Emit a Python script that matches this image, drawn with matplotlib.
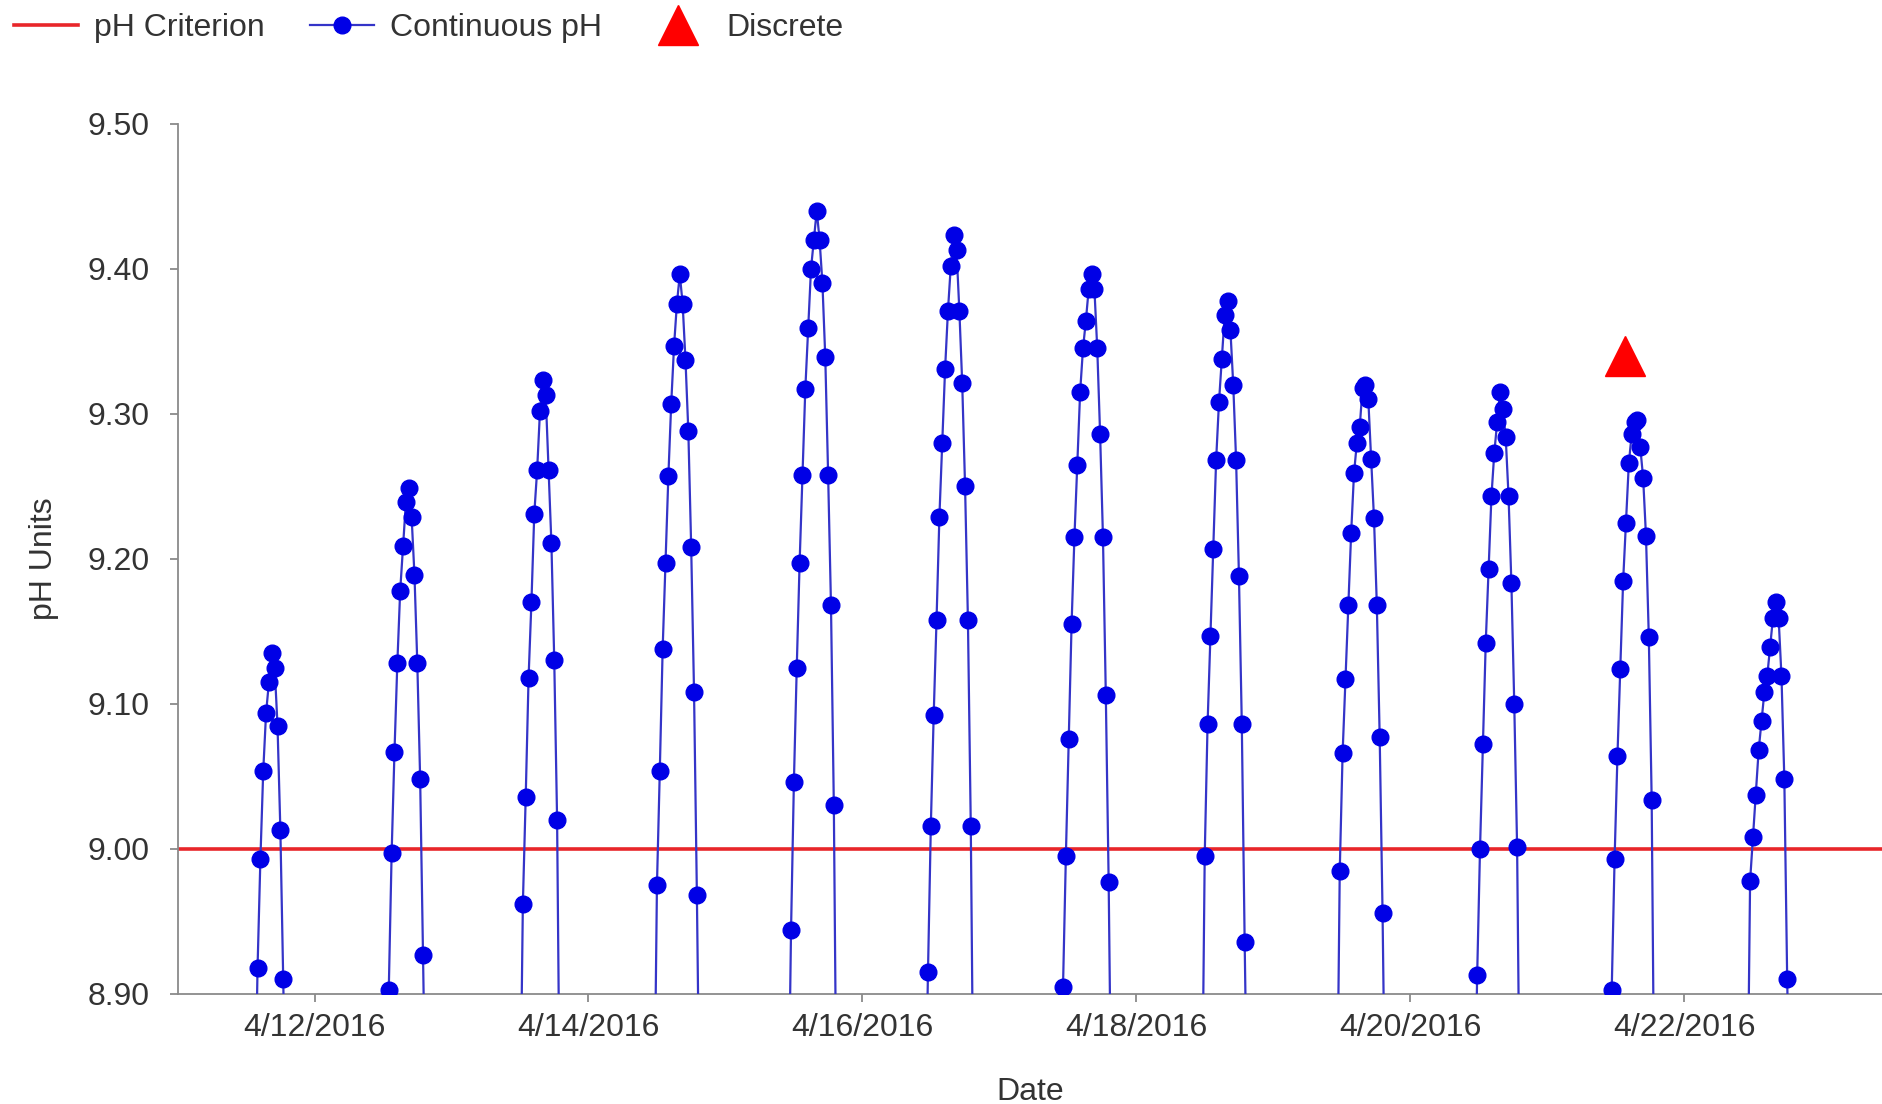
import pandas as pd
import matplotlib
matplotlib.use("Agg")
import matplotlib.pyplot as plt
from matplotlib.lines import Line2D

plt.rcParams['font.family'] = ['Liberation Sans', 'DejaVu Sans']

# time of first reading of each day's run (30 min steps), first and last are below the axis
run_starts = ['2016-04-11 13:30', '2016-04-12 12:30', '2016-04-13 12:00', '2016-04-14 11:30',
              '2016-04-15 11:00', '2016-04-16 11:00', '2016-04-17 10:40', '2016-04-18 11:30',
              '2016-04-19 11:10', '2016-04-20 11:15', '2016-04-21 10:50', '2016-04-22 11:05']

ph_0411 = [8.80, 8.918, 8.993, 9.054, 9.094, 9.115, 9.135, 9.125, 9.085, 9.013, 8.910, 8.80]
ph_0412 = [8.80, 8.903, 8.997, 9.067, 9.128, 9.178, 9.209, 9.239, 9.249, 9.229, 9.189, 9.128, 9.048, 8.927, 8.80]
ph_0413 = [8.80, 8.962, 9.036, 9.118, 9.170, 9.231, 9.261, 9.302, 9.323, 9.313, 9.261, 9.211, 9.130, 9.020, 8.80]
ph_0414 = [8.80, 8.975, 9.054, 9.138, 9.197, 9.257, 9.307, 9.347, 9.376, 9.396, 9.376, 9.337, 9.288, 9.208,
           9.108, 8.968, 8.80]
ph_0415 = [8.80, 8.944, 9.046, 9.125, 9.197, 9.258, 9.317, 9.359, 9.400, 9.420, 9.440, 9.420, 9.390, 9.339,
           9.258, 9.168, 9.030, 8.80]
ph_0416 = [8.80, 8.915, 9.016, 9.092, 9.158, 9.229, 9.280, 9.331, 9.371, 9.402, 9.423, 9.413, 9.371, 9.321,
           9.250, 9.158, 9.016, 8.80]
ph_0417 = [8.80, 8.905, 8.995, 9.076, 9.155, 9.215, 9.265, 9.315, 9.345, 9.364, 9.386, 9.396, 9.386, 9.345,
           9.286, 9.215, 9.106, 8.977, 8.80]
ph_0418 = [8.80, 8.995, 9.086, 9.147, 9.207, 9.268, 9.308, 9.338, 9.368, 9.378, 9.358, 9.320, 9.268, 9.188,
           9.086, 8.936, 8.80]
ph_0419 = [8.80, 8.985, 9.066, 9.117, 9.168, 9.218, 9.259, 9.280, 9.291, 9.318, 9.320, 9.310, 9.269, 9.228,
           9.168, 9.077, 8.956, 8.80]
ph_0420 = [8.80, 8.913, 9.000, 9.072, 9.142, 9.193, 9.243, 9.273, 9.294, 9.315, 9.303, 9.284, 9.243, 9.183,
           9.100, 9.001, 8.80]
ph_0421 = [8.80, 8.903, 8.993, 9.064, 9.124, 9.185, 9.225, 9.266, 9.286, 9.294, 9.296, 9.277, 9.256, 9.216,
           9.146, 9.034, 8.80]
ph_0422 = [8.80, 8.978, 9.008, 9.037, 9.068, 9.088, 9.108, 9.119, 9.139, 9.159, 9.170, 9.159, 9.119, 9.048,
           8.910, 8.80]
daily_ph = [ph_0411, ph_0412, ph_0413, ph_0414, ph_0415, ph_0416,
            ph_0417, ph_0418, ph_0419, ph_0420, ph_0421, ph_0422]

discrete_time = ['2016-04-21 13:40']
discrete_ph = [9.34]

criterion = 9.00

tick_dates = ['2016-04-12', '2016-04-14', '2016-04-16', '2016-04-18', '2016-04-20', '2016-04-22']
tick_labels = ['4/12/2016', '4/14/2016', '4/16/2016', '4/18/2016', '4/20/2016', '4/22/2016']
y_ticks = [8.90, 9.00, 9.10, 9.20, 9.30, 9.40, 9.50]

# build one continuous series
times = []
vals = []
for start, day in zip(run_starts, daily_ph):
    times.extend(pd.date_range(start, periods=len(day), freq='30min'))
    vals.extend(day)
ts = pd.Series(vals, index=pd.DatetimeIndex(times))

fig = plt.figure(figsize=(18.82, 11.04), dpi=100)
ax = fig.add_axes([0.0944, 0.0997, 0.9056, 0.7883])

txt = '#333333'
grey = '#8a8a8a'
blue_line = '#3434c8'
blue_dot = '#0000e6'
red = '#e8262a'

xmin = pd.Timestamp('2016-04-11 00:00')
xmax = pd.Timestamp('2016-04-23 10:42')

ax.axhline(criterion, color=red, lw=2.6, zorder=2)
ax.plot(ts.index, ts.values, color=blue_line, lw=1.6, marker='o', ms=12,
        mfc=blue_dot, mec=blue_dot, zorder=3)
ax.plot(pd.to_datetime(discrete_time), discrete_ph, linestyle='none', marker='^',
        ms=29, color='#ff0000', zorder=4)

ax.set_xlim(xmin, xmax)
ax.set_ylim(8.90, 9.50)
ax.set_yticks(y_ticks)
ax.set_yticklabels(['%.2f' % v for v in y_ticks])
ax.set_xticks(pd.to_datetime(tick_dates))
ax.set_xticklabels(tick_labels)

for s in ['top', 'right']:
    ax.spines[s].set_visible(False)
for s in ['left', 'bottom']:
    ax.spines[s].set_color(grey)
    ax.spines[s].set_linewidth(1.3)

ax.tick_params(axis='both', direction='out', length=6, width=1.3, color=grey,
               labelsize=23, labelcolor=txt)
ax.tick_params(axis='y', pad=14)
ax.tick_params(axis='x', pad=8)

ax.set_xlabel('Date', fontsize=23, color=txt, labelpad=24)
ax.set_ylabel('pH Units', fontsize=23, color=txt, labelpad=21)

handles = [Line2D([], [], color=red, lw=2.6),
           Line2D([], [], color=blue_line, lw=1.6, marker='o', ms=12, mfc=blue_dot, mec=blue_dot),
           Line2D([], [], linestyle='none', marker='^', ms=29, color='#ff0000')]
fig.legend(handles, ['pH Criterion', 'Continuous pH', 'Discrete'], loc='center left',
           bbox_to_anchor=(0.0077, 0.9742), ncol=3, frameon=False, fontsize=23,
           handlelength=2.0, handletextpad=0.5, columnspacing=1.4,
           borderpad=0, borderaxespad=0, labelcolor=txt)

fig.savefig('out.png', dpi=100, facecolor='white')
